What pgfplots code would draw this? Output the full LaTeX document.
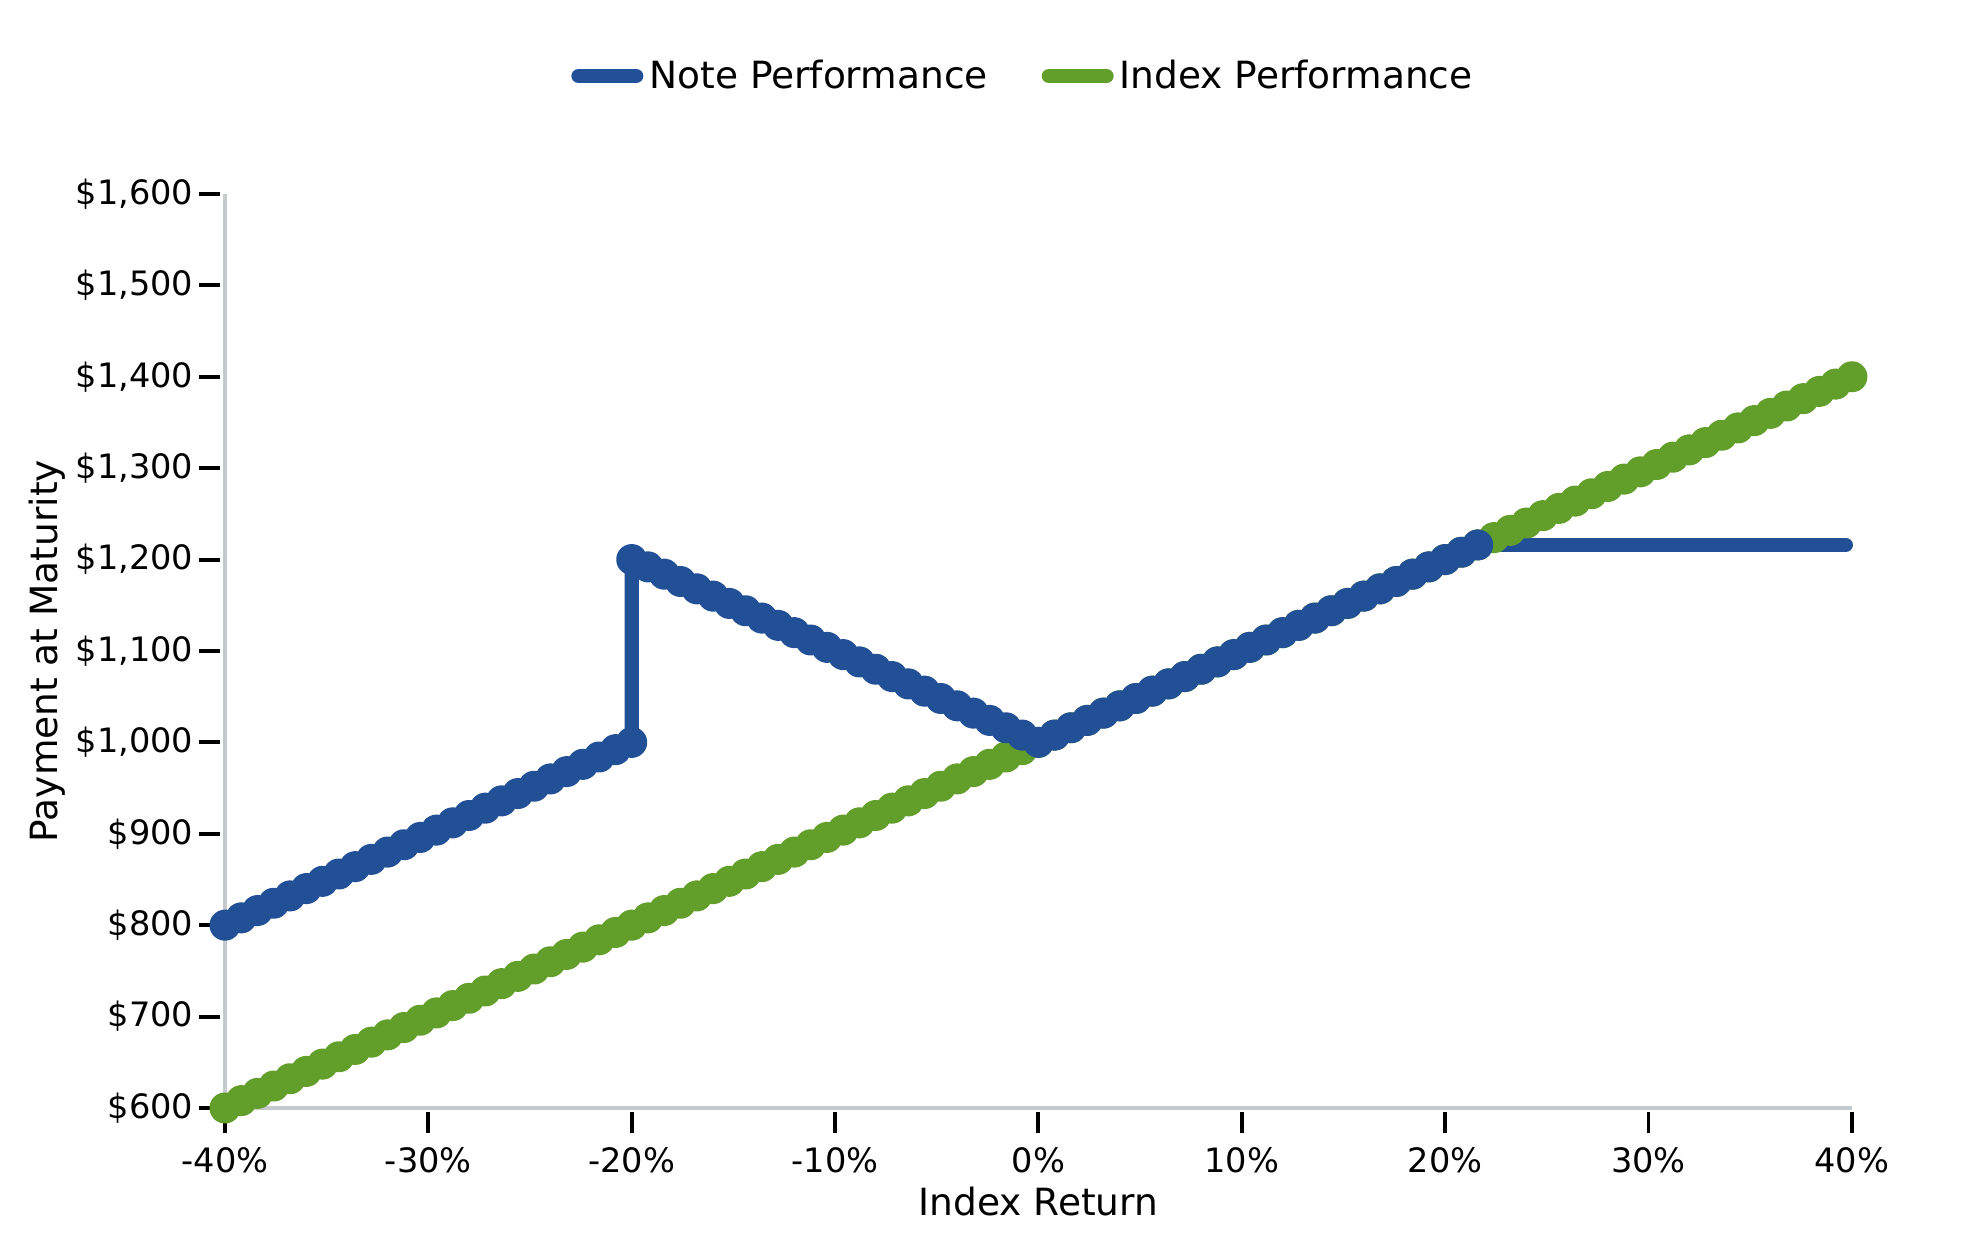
\documentclass[border=0pt]{standalone}
\usepackage{pgfplots}
\pgfplotsset{compat=1.18}
\usepackage{fontspec}
\setmainfont{DejaVu Sans}
\definecolor{noteblue}{RGB}{33,80,150}
\definecolor{idxgreen}{RGB}{98,158,42}
\definecolor{spinegray}{RGB}{197,202,207}
\begin{document}
\begin{tikzpicture}
\path[use as bounding box] (-75pt,-47.33pt) rectangle (584.67pt,369.33pt);
\begin{axis}[
  at={(0,0)}, anchor=south west,
  width=542.3pt, height=304.67pt, scale only axis,
  xmin=-40, xmax=40, ymin=600, ymax=1600,
  clip=false,
  axis x line*=bottom, axis y line*=left,
  axis line style={spinegray, line width=1.2pt, -},
  xtick={-40,-30,-20,-10,0,10,20,30,40},
  xticklabels={-40\%,-30\%,-20\%,-10\%,0\%,10\%,20\%,30\%,40\%},
  ytick={600,700,800,900,1000,1100,1200,1300,1400,1500,1600},
  yticklabels={\$600,\$700,\$800,\$900,{\$1,000},{\$1,100},{\$1,200},{\$1,300},{\$1,400},{\$1,500},{\$1,600}},
  tick align=outside, major tick length=7pt,
  xtick style={black, line width=1.3pt, yshift=-1.5pt},
  ytick style={black, line width=1.3pt, xshift=-1.5pt},
  ticklabel style={font=\fontsize{11.2}{13}\selectfont},
  xticklabel style={yshift=-2.5pt},
  xlabel={Index Return}, ylabel={Payment at Maturity},
  label style={font=\fontsize{12.5}{15}\selectfont},
  xlabel style={at={(axis description cs:0.5,-0.1024)}, anchor=center},
  ylabel style={at={(axis description cs:-0.1094,0.5)}, anchor=center},
  legend columns=2,
  legend style={draw=none, fill=none, at={(axis description cs:0.4917,1.129)}, anchor=center,
    font=\fontsize{12.5}{15}\selectfont,
    /tikz/every even column/.append style={column sep=16pt}},
  legend image code/.code={\draw[line cap=round, line width=4.8pt] (2.4pt,0pt) -- (21.6pt,0pt);},
]
\addlegendimage{noteblue}
\addlegendentry{Note Performance}
\addlegendimage{idxgreen}
\addlegendentry{Index Performance}

% Index performance
\addplot[forget plot, idxgreen, line width=4.8pt, line join=round, mark=*, mark size=2.8pt, mark options={draw=none, fill=idxgreen}] table {
x y
-40 600
-39.2 608
-38.4 616
-37.6 624
-36.8 632
-36 640
-35.2 648
-34.4 656
-33.6 664
-32.8 672
-32 680
-31.2 688
-30.4 696
-29.6 704
-28.8 712
-28 720
-27.2 728
-26.4 736
-25.6 744
-24.8 752
-24 760
-23.2 768
-22.4 776
-21.6 784
-20.8 792
-20 800
-19.2 808
-18.4 816
-17.6 824
-16.8 832
-16 840
-15.2 848
-14.4 856
-13.6 864
-12.8 872
-12 880
-11.2 888
-10.4 896
-9.6 904
-8.8 912
-8 920
-7.2 928
-6.4 936
-5.6 944
-4.8 952
-4 960
-3.2 968
-2.4 976
-1.6 984
-0.8 992
0 1000
0.8 1008
1.6 1016
2.4 1024
3.2 1032
4 1040
4.8 1048
5.6 1056
6.4 1064
7.2 1072
8 1080
8.8 1088
9.6 1096
10.4 1104
11.2 1112
12 1120
12.8 1128
13.6 1136
14.4 1144
15.2 1152
16 1160
16.8 1168
17.6 1176
18.4 1184
19.2 1192
20 1200
20.8 1208
21.6 1216
22.4 1224
23.2 1232
24 1240
24.8 1248
25.6 1256
26.4 1264
27.2 1272
28 1280
28.8 1288
29.6 1296
30.4 1304
31.2 1312
32 1320
32.8 1328
33.6 1336
34.4 1344
35.2 1352
36 1360
36.8 1368
37.6 1376
38.4 1384
39.2 1392
40 1400
};

% Note performance: cap plateau (no markers)
\addplot[forget plot, noteblue, line width=4.8pt, line cap=round] table {
x y
21.6 1216
39.7 1216
};

% Note performance
\addplot[forget plot, noteblue, line width=4.8pt, line join=round, mark=*, mark size=2.8pt, mark options={draw=none, fill=noteblue}] table {
x y
-40 800
-39.2 808
-38.4 816
-37.6 824
-36.8 832
-36 840
-35.2 848
-34.4 856
-33.6 864
-32.8 872
-32 880
-31.2 888
-30.4 896
-29.6 904
-28.8 912
-28 920
-27.2 928
-26.4 936
-25.6 944
-24.8 952
-24 960
-23.2 968
-22.4 976
-21.6 984
-20.8 992
-20 1000
-20 1200
-19.2 1192
-18.4 1184
-17.6 1176
-16.8 1168
-16 1160
-15.2 1152
-14.4 1144
-13.6 1136
-12.8 1128
-12 1120
-11.2 1112
-10.4 1104
-9.6 1096
-8.8 1088
-8 1080
-7.2 1072
-6.4 1064
-5.6 1056
-4.8 1048
-4 1040
-3.2 1032
-2.4 1024
-1.6 1016
-0.8 1008
0 1000
0.8 1008
1.6 1016
2.4 1024
3.2 1032
4 1040
4.8 1048
5.6 1056
6.4 1064
7.2 1072
8 1080
8.8 1088
9.6 1096
10.4 1104
11.2 1112
12 1120
12.8 1128
13.6 1136
14.4 1144
15.2 1152
16 1160
16.8 1168
17.6 1176
18.4 1184
19.2 1192
20 1200
20.8 1208
21.6 1216
};
\end{axis}
\end{tikzpicture}
\end{document}
